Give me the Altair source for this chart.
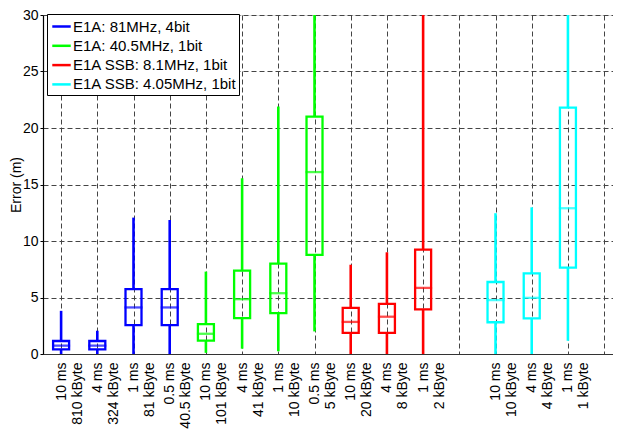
import json
import altair as alt
import pandas as pd

# ---- data ----
positions = [1, 2, 3, 4, 5, 6, 7, 8, 9, 10, 11, 13, 14, 15]
series = ["E1A: 81MHz, 4bit"] * 4 + ["E1A: 40.5MHz, 1bit"] * 4 + \
         ["E1A SSB: 8.1MHz, 1bit"] * 3 + ["E1A SSB: 4.05MHz, 1bit"] * 3
whisker_lo = [0.0, 0.0, 0.0, 0.0, 0.1, 0.47, 0.24, 2.0, 0.0, 0.0, 0.0, 0.0, 0.0, 1.17]
q1 = [0.41, 0.41, 2.56, 2.56, 1.18, 3.18, 3.62, 8.77, 1.87, 1.87, 3.95, 2.81, 3.16, 7.65]
median = [0.74, 0.74, 4.12, 4.12, 1.79, 4.85, 5.38, 16.1, 2.84, 3.30, 5.85, 4.77, 4.97, 12.9]
q3 = [1.15, 1.15, 5.74, 5.74, 2.65, 7.38, 8.0, 21.0, 4.09, 4.44, 9.24, 6.37, 7.13, 21.8]
whisker_hi = [3.82, 2.06, 12.07, 11.86, 7.29, 15.55, 21.9, 30.0, 7.9, 9.0, 30.0, 12.46, 12.98, 30.0]

series_names = ["E1A: 81MHz, 4bit", "E1A: 40.5MHz, 1bit",
                "E1A SSB: 8.1MHz, 1bit", "E1A SSB: 4.05MHz, 1bit"]
series_colors = ["#0000ff", "#00ff00", "#ff0000", "#00ffff"]

label_line1 = ["10 ms", "4 ms", "1 ms", "0.5 ms", "10 ms", "4 ms", "1 ms", "0.5 ms",
               "10 ms", "4 ms", "1 ms", "", "10 ms", "4 ms", "1 ms", ""]
label_line2 = ["810 kByte", "324 kByte", "81 kByte", "40.5 kByte", "101 kByte", "41 kByte",
               "10 kByte", "5 kByte", "20 kByte", "8 kByte", "2 kByte", "",
               "10 kByte", "4 kByte", "1 kByte", ""]
tick_positions = list(range(1, 17))
y_ticks = [0, 5, 10, 15, 20, 25, 30]

df = pd.DataFrame({
    "pos": positions, "series": series, "lo": whisker_lo, "q1": q1,
    "med": median, "q3": q3, "hi": whisker_hi,
})

FONT = "Liberation Sans"
grid_color = "#444444"
dash = [5, 3]
PLOT_H = 339

label_expr = ("[" + json.dumps(label_line1) + "[datum.value - 1], "
              + json.dumps(label_line2) + "[datum.value - 1]]")

x_enc = alt.X(
    "pos:Q",
    scale=alt.Scale(domain=[0.5, 16.245], nice=False, zero=False, padding=0),
    axis=alt.Axis(
        values=tick_positions, title=None, grid=True, gridDash=dash,
        gridColor=grid_color, gridOpacity=1, gridWidth=1,
        labelExpr=label_expr, labelAngle=270, labelAlign="right",
        labelBaseline="middle", labelLineHeight=16, labelPadding=8,
        labelFontSize=14, labelFont=FONT, labelColor="black",
        tickSize=0, domainColor="#333333", domainWidth=1.2,
        labelOverlap=False, labelFlush=False, tickCount=16,
    ),
)

y_scale = alt.Scale(domain=[0, 30], nice=False, padding=0)
y_axis = alt.Axis(
    values=y_ticks, title="Error (m)", grid=True, gridDash=dash,
    gridColor=grid_color, gridOpacity=1, gridWidth=1,
    labelFontSize=14, labelFont=FONT, labelColor="black", labelPadding=2,
    tickSize=3, tickColor="black", domainColor="black", domainWidth=1.2,
    titleFont=FONT, titleFontSize=14, titleFontWeight="normal",
    titleColor="black", titleAngle=270, titleAlign="center",
    titleBaseline="alphabetic", titleX=-23, titleY=PLOT_H / 2,
)

color_scale = alt.Scale(domain=series_names, range=series_colors)
legend = alt.Legend(
    title=None, orient="none", legendX=4, legendY=-1,
    symbolType="stroke", symbolSize=340, symbolStrokeWidth=2.5,
    labelFont=FONT, labelFontSize=15, labelColor="black", labelLimit=400,
    strokeColor="black", fillColor="white", padding=2,
    rowPadding=0.3, labelOffset=1, symbolOffset=2,
)
color_leg = alt.Color("series:N", scale=color_scale, legend=legend)
color_noleg = alt.Color("series:N", scale=color_scale, legend=None)

base = alt.Chart(df)

lower = base.mark_rule(strokeWidth=2.6).encode(
    x=x_enc, y=alt.Y("lo:Q", scale=y_scale, axis=y_axis), y2="q1:Q",
    color=color_leg,
)
upper = base.mark_rule(strokeWidth=2.6, clip=True).encode(
    x=x_enc, y=alt.Y("q3:Q", scale=y_scale, axis=y_axis), y2="hi:Q",
    color=color_noleg,
)
box = base.mark_bar(filled=False, strokeWidth=2.3, size=16).encode(
    x=x_enc, y=alt.Y("q1:Q", scale=y_scale, axis=y_axis), y2="q3:Q",
    color=color_noleg,
)
med = base.mark_tick(orient="horizontal", thickness=2.3, size=18).encode(
    x=x_enc, y=alt.Y("med:Q", scale=y_scale, axis=y_axis),
    color=color_noleg,
)

chart = alt.layer(lower, upper, box, med).properties(
    width=570, height=PLOT_H,
    autosize=alt.AutoSizeParams(type="none"),
    padding={"left": 35, "top": 7, "right": 0, "bottom": 76},
).configure_view(stroke=None).configure(background="white")

chart.save("out.html", embed_options={"renderer": "svg", "actions": False})
